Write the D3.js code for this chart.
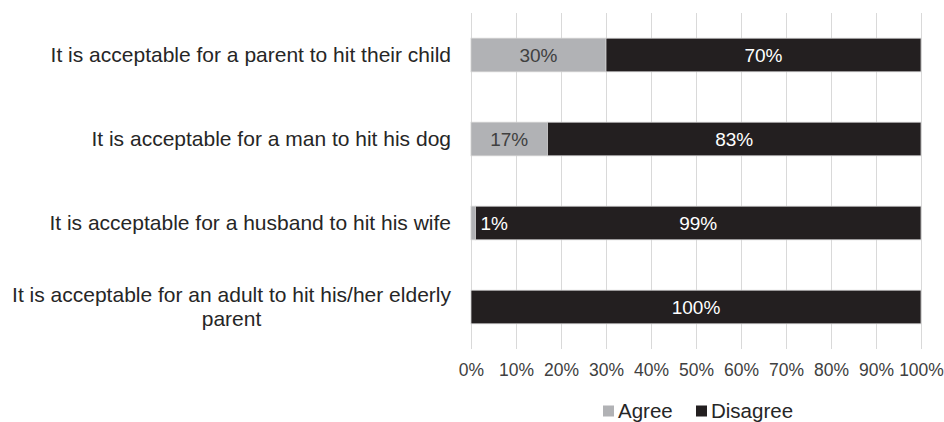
<!DOCTYPE html>
<html>
<head>
<meta charset="utf-8">
<script src="https://cdn.jsdelivr.net/npm/d3@7"></script>
<style>
body { margin: 0; background: #fff; }
text { font-family: "Liberation Sans", Arial, sans-serif; }
</style>
</head>
<body>
<div id="chart"></div>
<script>
// data
var statements = [
  "It is acceptable for a parent to hit their child",
  "It is acceptable for a man to hit his dog",
  "It is acceptable for a husband to hit his wife",
  "It is acceptable for an adult to hit his/her elderly parent"
];
var agree = [30, 17, 1, 0];
var disagree = [70, 83, 99, 100];
var seriesNames = ["Agree", "Disagree"];
var seriesColors = ["#b1b2b5", "#231f20"];
var tickValues = [0, 10, 20, 30, 40, 50, 60, 70, 80, 90, 100];

var W = 944, H = 422;
var margin = {top: 13, left: 471, right: 23, bottom: 73};
var width = W - margin.left - margin.right,
    height = H - margin.top - margin.bottom;

var svg = d3.select("#chart").append("svg")
  .attr("width", W).attr("height", H);
var g = svg.append("g")
  .attr("transform", "translate(" + margin.left + "," + margin.top + ")");

var x = d3.scaleLinear().domain([0, 100]).range([0, width]);
var y = d3.scaleBand().domain(statements).range([0, height]).paddingInner(0.6).paddingOuter(0.3);

// gridlines
g.append("g").selectAll("line")
  .data(tickValues)
  .enter().append("line")
  .attr("x1", function(d){ return x(d) + 0.5; })
  .attr("x2", function(d){ return x(d) + 0.5; })
  .attr("y1", 0).attr("y2", height)
  .attr("stroke", "#d9d9d9").attr("stroke-width", 1);

// x axis labels
var xAxis = g.append("g")
  .attr("transform", "translate(0," + height + ")")
  .call(d3.axisBottom(x).tickValues(tickValues).tickSize(0).tickPadding(15)
    .tickFormat(function(d){ return d + "%"; }));
xAxis.select(".domain").remove();
xAxis.selectAll("text").attr("font-size", 17.5).attr("fill", "#404040")
  .style("font-family", "Liberation Sans, Arial, sans-serif");

// stacked rows
var rows = statements.map(function(s, i){
  return {name: s, parts: [
    {key: 0, x0: 0, x1: agree[i], v: agree[i]},
    {key: 1, x0: agree[i], x1: agree[i] + disagree[i], v: disagree[i]}
  ]};
});

var row = g.selectAll(".row").data(rows).enter().append("g")
  .attr("transform", function(d){ return "translate(0," + y(d.name) + ")"; });

row.selectAll("rect")
  .data(function(d){ return d.parts.filter(function(p){ return p.v > 0; }); })
  .enter().append("rect")
  .attr("x", function(d){ return x(d.x0); })
  .attr("width", function(d){ return x(d.x1) - x(d.x0); })
  .attr("y", 0).attr("height", y.bandwidth())
  .attr("fill", function(d){ return seriesColors[d.key]; })
  .attr("stroke", "#d0d0d0").attr("stroke-width", 0.8);

row.selectAll(".val")
  .data(function(d){ return d.parts.filter(function(p){ return p.v > 0; }); })
  .enter().append("text")
  .attr("class", "val")
  .attr("x", function(d){
    var w = x(d.x1) - x(d.x0);
    return w < 30 ? x(d.x1) + 5 : (x(d.x0) + x(d.x1)) / 2;
  })
  .attr("text-anchor", function(d){ return (x(d.x1) - x(d.x0)) < 30 ? "start" : "middle"; })
  .attr("y", y.bandwidth() / 2)
  .attr("dy", "0.35em")
  .attr("font-size", 19)
  .attr("fill", function(d){ return (d.key === 1 || (x(d.x1) - x(d.x0)) < 30) ? "#ffffff" : "#404040"; })
  .text(function(d){ return d.v + "%"; });

// category labels, wrapped when too long
var maxLabel = 445;
svg.append("g").selectAll("text")
  .data(statements)
  .enter().append("text")
  .attr("font-size", 21)
  .attr("fill", "#262626")
  .each(function(d){
    var t = d3.select(this);
    var words = d.split(" "), lines = [], line = [];
    var probe = t.append("tspan");
    words.forEach(function(w){
      line.push(w);
      probe.text(line.join(" "));
      if (probe.node().getComputedTextLength() > maxLabel && line.length > 1) {
        line.pop(); lines.push(line.join(" ")); line = [w];
      }
    });
    lines.push(line.join(" "));
    probe.remove();
    var cy = margin.top + y(d) + y.bandwidth() / 2;
    var lh = 24;
    var widths = lines.map(function(l){
      var tmp = t.append("tspan").text(l);
      var wv = tmp.node().getComputedTextLength(); tmp.remove(); return wv;
    });
    var blockW = d3.max(widths);
    var right = 451;
    lines.forEach(function(l, k){
      t.append("tspan")
        .attr("x", right - blockW / 2)
        .attr("text-anchor", "middle")
        .attr("y", cy + (k - (lines.length - 1) / 2) * lh)
        .attr("dy", "0.35em")
        .text(l);
    });
  });

// legend
var legend = svg.append("g").attr("transform", "translate(603,411)");
var legX = [0, 93];
seriesNames.forEach(function(n, i){
  var lg = legend.append("g").attr("transform", "translate(" + legX[i] + ",0)");
  lg.append("rect").attr("x", 0).attr("y", -5.5).attr("width", 11).attr("height", 11)
    .attr("fill", seriesColors[i]);
  lg.append("text").attr("x", 15).attr("y", 0).attr("dy", "0.35em")
    .attr("font-size", 20.5).attr("fill", "#262626").text(n);
});
</script>
</body>
</html>
